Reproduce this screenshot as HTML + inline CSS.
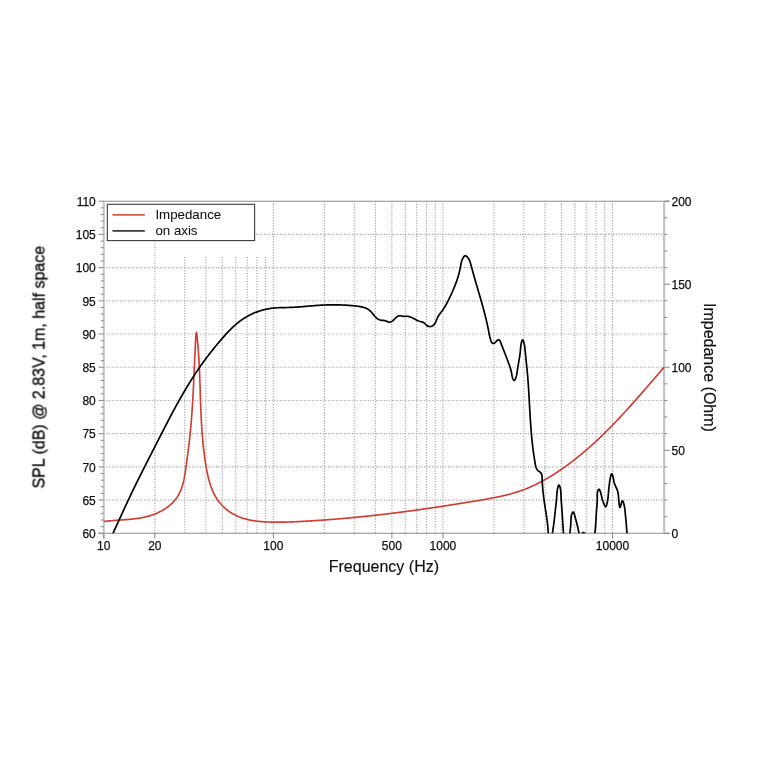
<!DOCTYPE html><html><head><meta charset="utf-8"><style>html,body{margin:0;padding:0;background:#fff;width:768px;height:768px;overflow:hidden}svg{display:block;will-change:transform}text{font-family:"Liberation Sans",sans-serif;fill:#111;stroke:#111;stroke-width:0.25px}</style></head><body>
<svg width="768" height="768" viewBox="0 0 768 768">
<defs><clipPath id="pc"><rect x="103.80" y="201.20" width="560.40" height="332.10"/></clipPath></defs>
<g stroke="#a3a3a3" stroke-width="1.15" stroke-dasharray="1.1 1.567" fill="none"><line x1="103.80" y1="500.09" x2="664.20" y2="500.09"/><line x1="103.80" y1="466.88" x2="664.20" y2="466.88"/><line x1="103.80" y1="433.67" x2="664.20" y2="433.67"/><line x1="103.80" y1="400.46" x2="664.20" y2="400.46"/><line x1="103.80" y1="367.25" x2="664.20" y2="367.25"/><line x1="103.80" y1="334.04" x2="664.20" y2="334.04"/><line x1="103.80" y1="300.83" x2="664.20" y2="300.83"/><line x1="103.80" y1="267.62" x2="664.20" y2="267.62"/><line x1="103.80" y1="234.41" x2="664.20" y2="234.41"/><line x1="154.85" y1="241.50" x2="154.85" y2="533.30"/><line x1="184.71" y1="257.00" x2="184.71" y2="533.30"/><line x1="205.89" y1="257.00" x2="205.89" y2="533.30"/><line x1="222.32" y1="257.00" x2="222.32" y2="533.30"/><line x1="235.75" y1="257.00" x2="235.75" y2="533.30"/><line x1="247.10" y1="257.00" x2="247.10" y2="533.30"/><line x1="256.94" y1="257.00" x2="256.94" y2="533.30"/><line x1="265.61" y1="257.00" x2="265.61" y2="533.30"/><line x1="273.37" y1="201.20" x2="273.37" y2="533.30"/><line x1="324.42" y1="201.20" x2="324.42" y2="533.30"/><line x1="354.28" y1="201.20" x2="354.28" y2="533.30"/><line x1="375.46" y1="201.20" x2="375.46" y2="533.30"/><line x1="391.89" y1="201.20" x2="391.89" y2="533.30"/><line x1="405.32" y1="201.20" x2="405.32" y2="533.30"/><line x1="416.67" y1="201.20" x2="416.67" y2="533.30"/><line x1="426.51" y1="201.20" x2="426.51" y2="533.30"/><line x1="435.18" y1="201.20" x2="435.18" y2="533.30"/><line x1="442.94" y1="201.20" x2="442.94" y2="533.30"/><line x1="493.99" y1="201.20" x2="493.99" y2="533.30"/><line x1="523.85" y1="201.20" x2="523.85" y2="533.30"/><line x1="545.03" y1="201.20" x2="545.03" y2="533.30"/><line x1="561.46" y1="201.20" x2="561.46" y2="533.30"/><line x1="574.89" y1="201.20" x2="574.89" y2="533.30"/><line x1="586.24" y1="201.20" x2="586.24" y2="533.30"/><line x1="596.08" y1="201.20" x2="596.08" y2="533.30"/><line x1="604.75" y1="201.20" x2="604.75" y2="533.30"/><line x1="612.51" y1="201.20" x2="612.51" y2="533.30"/><line x1="663.56" y1="201.20" x2="663.56" y2="533.30"/></g>
<rect x="107.3" y="204.3" width="147.3" height="36.3" fill="#fff" stroke="#3a3a3a" stroke-width="1.1"/>
<line x1="112.5" y1="214.8" x2="144.8" y2="214.8" stroke="#d55a45" stroke-width="1.8"/>
<line x1="112.5" y1="230.8" x2="144.8" y2="230.8" stroke="#3a3a3a" stroke-width="1.8"/>
<text x="155.4" y="219.4" font-size="13.3" style="stroke-width:0.05px">Impedance</text>
<text x="155.4" y="235.3" font-size="13.3" style="stroke-width:0.05px">on axis</text>
<line x1="102.80" y1="201.20" x2="669.70" y2="201.20" stroke="#8c8c8c" stroke-width="1.1"/><line x1="98.30" y1="533.30" x2="669.70" y2="533.30" stroke="#8c8c8c" stroke-width="1.1"/><line x1="103.80" y1="201.20" x2="103.80" y2="538.30" stroke="#c4c4c4" stroke-width="2"/><line x1="664.20" y1="201.20" x2="664.20" y2="533.30" stroke="#c4c4c4" stroke-width="2"/><g stroke="#888" stroke-width="1"><line x1="98.50" y1="533.30" x2="103.80" y2="533.30"/><line x1="100.80" y1="526.66" x2="103.80" y2="526.66"/><line x1="100.80" y1="520.02" x2="103.80" y2="520.02"/><line x1="100.80" y1="513.37" x2="103.80" y2="513.37"/><line x1="100.80" y1="506.73" x2="103.80" y2="506.73"/><line x1="98.50" y1="500.09" x2="103.80" y2="500.09"/><line x1="100.80" y1="493.45" x2="103.80" y2="493.45"/><line x1="100.80" y1="486.81" x2="103.80" y2="486.81"/><line x1="100.80" y1="480.16" x2="103.80" y2="480.16"/><line x1="100.80" y1="473.52" x2="103.80" y2="473.52"/><line x1="98.50" y1="466.88" x2="103.80" y2="466.88"/><line x1="100.80" y1="460.24" x2="103.80" y2="460.24"/><line x1="100.80" y1="453.60" x2="103.80" y2="453.60"/><line x1="100.80" y1="446.95" x2="103.80" y2="446.95"/><line x1="100.80" y1="440.31" x2="103.80" y2="440.31"/><line x1="98.50" y1="433.67" x2="103.80" y2="433.67"/><line x1="100.80" y1="427.03" x2="103.80" y2="427.03"/><line x1="100.80" y1="420.39" x2="103.80" y2="420.39"/><line x1="100.80" y1="413.74" x2="103.80" y2="413.74"/><line x1="100.80" y1="407.10" x2="103.80" y2="407.10"/><line x1="98.50" y1="400.46" x2="103.80" y2="400.46"/><line x1="100.80" y1="393.82" x2="103.80" y2="393.82"/><line x1="100.80" y1="387.18" x2="103.80" y2="387.18"/><line x1="100.80" y1="380.53" x2="103.80" y2="380.53"/><line x1="100.80" y1="373.89" x2="103.80" y2="373.89"/><line x1="98.50" y1="367.25" x2="103.80" y2="367.25"/><line x1="100.80" y1="360.61" x2="103.80" y2="360.61"/><line x1="100.80" y1="353.97" x2="103.80" y2="353.97"/><line x1="100.80" y1="347.32" x2="103.80" y2="347.32"/><line x1="100.80" y1="340.68" x2="103.80" y2="340.68"/><line x1="98.50" y1="334.04" x2="103.80" y2="334.04"/><line x1="100.80" y1="327.40" x2="103.80" y2="327.40"/><line x1="100.80" y1="320.76" x2="103.80" y2="320.76"/><line x1="100.80" y1="314.11" x2="103.80" y2="314.11"/><line x1="100.80" y1="307.47" x2="103.80" y2="307.47"/><line x1="98.50" y1="300.83" x2="103.80" y2="300.83"/><line x1="100.80" y1="294.19" x2="103.80" y2="294.19"/><line x1="100.80" y1="287.55" x2="103.80" y2="287.55"/><line x1="100.80" y1="280.90" x2="103.80" y2="280.90"/><line x1="100.80" y1="274.26" x2="103.80" y2="274.26"/><line x1="98.50" y1="267.62" x2="103.80" y2="267.62"/><line x1="100.80" y1="260.98" x2="103.80" y2="260.98"/><line x1="100.80" y1="254.34" x2="103.80" y2="254.34"/><line x1="100.80" y1="247.69" x2="103.80" y2="247.69"/><line x1="100.80" y1="241.05" x2="103.80" y2="241.05"/><line x1="98.50" y1="234.41" x2="103.80" y2="234.41"/><line x1="100.80" y1="227.77" x2="103.80" y2="227.77"/><line x1="100.80" y1="221.13" x2="103.80" y2="221.13"/><line x1="100.80" y1="214.48" x2="103.80" y2="214.48"/><line x1="100.80" y1="207.84" x2="103.80" y2="207.84"/><line x1="98.50" y1="201.20" x2="103.80" y2="201.20"/><line x1="664.20" y1="533.30" x2="669.70" y2="533.30"/><line x1="664.20" y1="516.69" x2="667.20" y2="516.69"/><line x1="664.20" y1="500.09" x2="667.20" y2="500.09"/><line x1="664.20" y1="483.48" x2="667.20" y2="483.48"/><line x1="664.20" y1="466.88" x2="667.20" y2="466.88"/><line x1="664.20" y1="450.27" x2="669.70" y2="450.27"/><line x1="664.20" y1="433.67" x2="667.20" y2="433.67"/><line x1="664.20" y1="417.06" x2="667.20" y2="417.06"/><line x1="664.20" y1="400.46" x2="667.20" y2="400.46"/><line x1="664.20" y1="383.85" x2="667.20" y2="383.85"/><line x1="664.20" y1="367.25" x2="669.70" y2="367.25"/><line x1="664.20" y1="350.64" x2="667.20" y2="350.64"/><line x1="664.20" y1="334.04" x2="667.20" y2="334.04"/><line x1="664.20" y1="317.44" x2="667.20" y2="317.44"/><line x1="664.20" y1="300.83" x2="667.20" y2="300.83"/><line x1="664.20" y1="284.23" x2="669.70" y2="284.23"/><line x1="664.20" y1="267.62" x2="667.20" y2="267.62"/><line x1="664.20" y1="251.01" x2="667.20" y2="251.01"/><line x1="664.20" y1="234.41" x2="667.20" y2="234.41"/><line x1="664.20" y1="217.81" x2="667.20" y2="217.81"/><line x1="664.20" y1="201.20" x2="669.70" y2="201.20"/><line x1="103.80" y1="533.30" x2="103.80" y2="538.50"/><line x1="154.85" y1="533.30" x2="154.85" y2="538.50"/><line x1="273.37" y1="533.30" x2="273.37" y2="538.50"/><line x1="391.89" y1="533.30" x2="391.89" y2="538.50"/><line x1="442.94" y1="533.30" x2="442.94" y2="538.50"/><line x1="612.51" y1="533.30" x2="612.51" y2="538.50"/></g>
<g clip-path="url(#pc)" fill="none" stroke-linejoin="round" stroke-linecap="round">
<path d="M103.07,521.64 103.70,521.55 104.34,521.46 104.98,521.38 105.62,521.30 106.26,521.22 106.90,521.15 107.55,521.08 108.20,521.01 108.85,520.94 109.50,520.88 110.15,520.81 110.80,520.75 111.46,520.70 112.11,520.64 112.77,520.59 113.43,520.53 114.09,520.48 114.75,520.43 115.41,520.38 116.08,520.33 116.74,520.28 117.40,520.24 118.07,520.19 118.74,520.14 119.40,520.10 120.07,520.05 120.74,520.00 121.41,519.96 122.08,519.91 122.75,519.86 123.42,519.81 124.09,519.76 124.76,519.71 125.43,519.66 126.10,519.61 126.78,519.56 127.45,519.50 128.12,519.44 128.79,519.39 129.46,519.33 130.13,519.26 130.80,519.20 131.48,519.13 132.15,519.06 132.82,518.99 133.49,518.91 134.16,518.83 134.83,518.75 135.49,518.67 136.16,518.58 136.83,518.49 137.50,518.39 138.16,518.29 138.83,518.19 139.49,518.08 140.15,517.97 140.82,517.86 141.48,517.74 142.14,517.61 142.80,517.48 143.45,517.35 144.11,517.21 144.77,517.06 145.42,516.91 146.07,516.76 146.72,516.60 147.37,516.43 148.02,516.26 148.67,516.08 149.31,515.89 149.95,515.70 150.59,515.50 151.23,515.30 151.87,515.09 152.51,514.87 153.14,514.64 153.77,514.41 154.40,514.17 155.02,513.93 155.64,513.68 156.26,513.42 156.88,513.16 157.49,512.89 158.10,512.61 158.70,512.33 159.30,512.04 159.90,511.74 160.49,511.44 161.08,511.13 161.67,510.81 162.25,510.49 162.82,510.16 163.39,509.82 163.96,509.48 164.52,509.13 165.07,508.77 165.62,508.41 166.16,508.04 166.70,507.67 167.23,507.28 167.76,506.89 168.28,506.50 168.79,506.10 169.30,505.69 169.80,505.27 170.29,504.85 170.78,504.42 171.26,503.98 171.73,503.54 172.19,503.09 172.65,502.64 173.10,502.17 173.54,501.70 173.98,501.23 174.40,500.75 174.82,500.26 175.23,499.76 175.63,499.26 176.02,498.75 176.40,498.23 176.77,497.71 177.14,497.18 177.49,496.64 177.84,496.10 178.18,495.55 178.50,495.00 178.82,494.43 179.13,493.86 179.42,493.29 179.71,492.71 179.99,492.12 180.26,491.52 180.52,490.93 180.77,490.32 181.02,489.71 181.25,489.10 181.48,488.47 181.70,487.85 181.92,487.22 182.12,486.59 182.32,485.95 182.52,485.31 182.70,484.66 182.88,484.01 183.06,483.36 183.22,482.70 183.39,482.04 183.54,481.38 183.70,480.72 183.84,480.05 183.99,479.38 184.12,478.71 184.26,478.04 184.39,477.36 184.51,476.68 184.63,476.00 184.75,475.32 184.87,474.64 184.98,473.96 185.09,473.28 185.20,472.60 185.30,471.91 185.41,471.23 185.51,470.55 185.61,469.86 185.70,469.18 185.80,468.50 185.89,467.82 185.99,467.14 186.08,466.46 186.18,465.78 186.27,465.10 186.36,464.43 186.46,463.75 186.55,463.08 186.64,462.41 186.73,461.74 186.82,461.07 186.91,460.40 187.00,459.73 187.09,459.07 187.18,458.40 187.27,457.74 187.36,457.08 187.45,456.41 187.53,455.75 187.62,455.09 187.71,454.43 187.79,453.77 187.88,453.11 187.96,452.45 188.05,451.80 188.13,451.14 188.21,450.48 188.30,449.83 188.38,449.17 188.46,448.52 188.54,447.86 188.62,447.21 188.70,446.55 188.78,445.90 188.86,445.25 188.94,444.59 189.02,443.94 189.09,443.29 189.17,442.64 189.25,441.99 189.32,441.33 189.40,440.68 189.47,440.03 189.54,439.38 189.62,438.73 189.69,438.07 189.76,437.42 189.83,436.77 189.90,436.12 189.97,435.46 190.04,434.81 190.10,434.16 190.17,433.50 190.24,432.85 190.30,432.20 190.37,431.54 190.43,430.89 190.50,430.23 190.56,429.58 190.62,428.92 190.68,428.26 190.74,427.61 190.80,426.95 190.86,426.29 190.92,425.64 190.98,424.98 191.03,424.32 191.09,423.66 191.15,423.00 191.20,422.34 191.26,421.68 191.31,421.02 191.37,420.36 191.42,419.70 191.47,419.04 191.52,418.38 191.57,417.72 191.62,417.06 191.67,416.40 191.72,415.74 191.77,415.08 191.82,414.41 191.87,413.75 191.92,413.09 191.96,412.43 192.01,411.76 192.06,411.10 192.10,410.44 192.15,409.77 192.19,409.11 192.24,408.44 192.28,407.78 192.32,407.11 192.36,406.45 192.41,405.78 192.45,405.12 192.49,404.45 192.53,403.79 192.57,403.12 192.61,402.46 192.65,401.79 192.69,401.13 192.73,400.46 192.77,399.79 192.81,399.13 192.84,398.46 192.88,397.79 192.92,397.13 192.96,396.46 192.99,395.79 193.03,395.13 193.06,394.46 193.10,393.79 193.14,393.12 193.17,392.46 193.21,391.79 193.24,391.12 193.27,390.45 193.31,389.78 193.34,389.12 193.37,388.45 193.41,387.78 193.44,387.11 193.47,386.44 193.51,385.78 193.54,385.11 193.57,384.44 193.60,383.77 193.63,383.10 193.67,382.43 193.70,381.77 193.73,381.10 193.76,380.43 193.79,379.76 193.82,379.09 193.85,378.42 193.88,377.75 193.91,377.09 193.94,376.42 193.97,375.75 194.00,375.08 194.03,374.41 194.06,373.74 194.09,373.08 194.12,372.41 194.15,371.74 194.18,371.07 194.21,370.40 194.24,369.73 194.27,369.07 194.30,368.40 194.33,367.73 194.36,367.06 194.39,366.40 194.41,365.73 194.44,365.06 194.47,364.39 194.50,363.73 194.53,363.06 194.56,362.39 194.59,361.73 194.62,361.06 194.65,360.39 194.68,359.72 194.71,359.06 194.74,358.39 194.77,357.73 194.80,357.06 194.83,356.39 194.86,355.73 194.89,355.06 194.92,354.40 194.95,353.73 194.98,353.07 195.01,352.40 195.04,351.74 195.07,351.07 195.11,350.41 195.14,349.74 195.17,349.08 195.20,348.42 195.23,347.75 195.27,347.09 195.30,346.43 195.33,345.76 195.36,345.10 195.40,344.44 195.43,343.78 195.46,343.12 195.50,342.45 195.53,341.79 195.57,341.13 195.60,340.47 195.64,339.81 195.67,339.15 195.71,338.49 195.74,337.83 195.78,337.17 195.82,336.51 195.85,335.85 195.89,335.19 195.93,334.53 Q196.4,330.2 196.81,334.42 L196.89,335.09 196.96,335.77 197.04,336.44 197.11,337.11 197.18,337.78 197.25,338.45 197.32,339.12 197.38,339.79 197.45,340.46 197.52,341.13 197.58,341.81 197.64,342.48 197.70,343.15 197.76,343.82 197.82,344.48 197.88,345.15 197.94,345.82 198.00,346.49 198.05,347.16 198.11,347.83 198.16,348.50 198.21,349.17 198.26,349.84 198.31,350.50 198.36,351.17 198.41,351.84 198.46,352.51 198.51,353.18 198.55,353.84 198.60,354.51 198.64,355.18 198.69,355.84 198.73,356.51 198.77,357.18 198.81,357.85 198.85,358.51 198.89,359.18 198.93,359.84 198.97,360.51 199.01,361.18 199.04,361.84 199.08,362.51 199.11,363.17 199.15,363.84 199.18,364.50 199.22,365.17 199.25,365.84 199.28,366.50 199.31,367.17 199.34,367.83 199.38,368.50 199.41,369.16 199.44,369.82 199.46,370.49 199.49,371.15 199.52,371.82 199.55,372.48 199.58,373.15 199.60,373.81 199.63,374.47 199.66,375.14 199.68,375.80 199.71,376.47 199.73,377.13 199.76,377.79 199.78,378.46 199.80,379.12 199.83,379.78 199.85,380.45 199.88,381.11 199.90,381.77 199.92,382.43 199.94,383.10 199.97,383.76 199.99,384.42 200.01,385.09 200.03,385.75 200.05,386.41 200.08,387.07 200.10,387.74 200.12,388.40 200.14,389.06 200.16,389.72 200.18,390.39 200.20,391.05 200.22,391.71 200.25,392.37 200.27,393.04 200.29,393.70 200.31,394.36 200.33,395.02 200.35,395.68 200.37,396.35 200.39,397.01 200.42,397.67 200.44,398.33 200.46,398.99 200.48,399.66 200.50,400.32 200.53,400.98 200.55,401.64 200.57,402.30 200.59,402.96 200.62,403.63 200.64,404.29 200.66,404.95 200.69,405.61 200.71,406.27 200.74,406.94 200.76,407.60 200.79,408.26 200.81,408.92 200.84,409.58 200.87,410.24 200.89,410.91 200.92,411.57 200.95,412.23 200.98,412.89 201.01,413.55 201.03,414.22 201.06,414.88 201.09,415.54 201.12,416.20 201.16,416.86 201.19,417.53 201.22,418.19 201.25,418.85 201.29,419.51 201.32,420.17 201.36,420.84 201.39,421.50 201.43,422.16 201.46,422.82 201.50,423.49 201.54,424.15 201.58,424.81 201.62,425.47 201.66,426.14 201.70,426.80 201.74,427.46 201.79,428.12 201.83,428.79 201.87,429.45 201.92,430.11 201.96,430.78 202.01,431.44 202.06,432.10 202.11,432.76 202.16,433.43 202.21,434.09 202.26,434.75 202.31,435.42 202.37,436.08 202.42,436.75 202.48,437.41 202.53,438.07 202.59,438.74 202.65,439.40 202.71,440.06 202.77,440.73 202.83,441.39 202.89,442.06 202.96,442.72 203.02,443.39 203.09,444.05 203.16,444.72 203.22,445.38 203.29,446.05 203.36,446.71 203.44,447.38 203.51,448.04 203.59,448.71 203.66,449.37 203.74,450.04 203.82,450.70 203.90,451.37 203.98,452.03 204.06,452.70 204.14,453.37 204.23,454.03 204.32,454.70 204.40,455.37 204.49,456.03 204.59,456.70 204.68,457.37 204.77,458.03 204.87,458.70 204.96,459.37 205.06,460.04 205.16,460.70 205.26,461.37 205.37,462.04 205.47,462.71 205.58,463.38 205.68,464.05 205.79,464.71 205.90,465.38 206.02,466.05 206.13,466.72 206.25,467.39 206.36,468.06 206.48,468.73 206.61,469.40 206.73,470.07 206.86,470.73 206.99,471.40 207.12,472.07 207.25,472.74 207.39,473.40 207.53,474.07 207.67,474.73 207.82,475.39 207.97,476.06 208.12,476.72 208.28,477.37 208.44,478.03 208.60,478.69 208.77,479.34 208.94,480.00 209.11,480.65 209.29,481.29 209.48,481.94 209.67,482.59 209.86,483.23 210.06,483.87 210.26,484.51 210.47,485.14 210.68,485.77 210.90,486.40 211.13,487.03 211.36,487.65 211.59,488.27 211.83,488.89 212.08,489.51 212.33,490.12 212.59,490.72 212.86,491.33 213.13,491.93 213.40,492.53 213.69,493.12 213.98,493.71 214.28,494.29 214.58,494.87 214.89,495.45 215.21,496.02 215.54,496.59 215.87,497.15 216.21,497.71 216.56,498.27 216.92,498.82 217.28,499.36 217.66,499.90 218.04,500.43 218.42,500.96 218.82,501.49 219.22,502.00 219.63,502.52 220.05,503.02 220.47,503.53 220.90,504.02 221.34,504.51 221.78,505.00 222.24,505.47 222.69,505.95 223.16,506.41 223.63,506.87 224.11,507.32 224.59,507.77 225.08,508.21 225.57,508.64 226.07,509.07 226.58,509.49 227.09,509.90 227.61,510.30 228.14,510.70 228.66,511.09 229.20,511.47 229.74,511.85 230.28,512.22 230.83,512.58 231.38,512.93 231.94,513.28 232.51,513.61 233.08,513.94 233.65,514.26 234.22,514.57 234.81,514.88 235.39,515.17 235.98,515.46 236.57,515.74 237.17,516.01 237.77,516.28 238.38,516.53 238.98,516.78 239.60,517.02 240.21,517.26 240.83,517.49 241.45,517.71 242.08,517.92 242.70,518.13 243.34,518.32 243.97,518.52 244.61,518.70 245.25,518.88 245.89,519.06 246.53,519.23 247.18,519.39 247.83,519.54 248.48,519.69 249.14,519.84 249.80,519.97 250.45,520.11 251.12,520.23 251.78,520.36 252.44,520.47 253.11,520.59 253.78,520.69 254.45,520.79 255.12,520.89 255.79,520.98 256.46,521.07 257.14,521.16 257.81,521.23 258.49,521.31 259.17,521.38 259.85,521.45 260.53,521.51 261.21,521.57 261.89,521.63 262.57,521.68 263.25,521.73 263.93,521.77 264.61,521.82 265.30,521.86 265.98,521.89 266.66,521.93 267.34,521.96 268.03,521.99 268.71,522.01 269.39,522.03 270.07,522.05 270.75,522.07 271.43,522.09 272.11,522.11 272.79,522.12 273.47,522.13 274.14,522.14 274.82,522.15 275.50,522.15 276.17,522.16 276.84,522.16 277.51,522.16 278.19,522.16 278.86,522.16 279.53,522.16 280.20,522.15 280.87,522.15 281.53,522.14 282.20,522.13 282.87,522.12 283.53,522.11 284.20,522.10 284.87,522.09 285.53,522.07 286.19,522.06 286.86,522.04 287.52,522.02 288.18,522.00 288.85,521.98 289.51,521.96 290.17,521.94 290.83,521.91 291.49,521.89 292.15,521.87 292.81,521.84 293.47,521.81 294.13,521.78 294.79,521.76 295.45,521.73 296.11,521.70 296.77,521.67 297.43,521.63 298.09,521.60 298.74,521.57 299.40,521.54 300.06,521.50 300.72,521.47 301.38,521.43 302.04,521.40 302.70,521.36 303.35,521.33 304.01,521.29 304.67,521.25 305.33,521.21 305.99,521.18 306.65,521.14 307.31,521.10 307.97,521.06 308.63,521.02 309.29,520.98 309.95,520.94 310.61,520.90 311.27,520.86 311.93,520.82 312.59,520.78 313.25,520.73 313.91,520.69 314.57,520.65 315.24,520.61 315.90,520.56 316.56,520.52 317.22,520.47 317.88,520.43 318.54,520.39 319.21,520.34 319.87,520.29 320.53,520.25 321.19,520.20 321.85,520.16 322.52,520.11 323.18,520.06 323.84,520.01 324.50,519.96 325.17,519.92 325.83,519.87 326.49,519.82 327.16,519.77 327.82,519.72 328.48,519.67 329.14,519.62 329.81,519.57 330.47,519.52 331.13,519.46 331.80,519.41 332.46,519.36 333.13,519.31 333.79,519.25 334.45,519.20 335.12,519.15 335.78,519.09 336.45,519.04 337.11,518.98 337.77,518.93 338.44,518.87 339.10,518.82 339.77,518.76 340.43,518.70 341.09,518.65 341.76,518.59 342.42,518.53 343.09,518.47 343.75,518.42 344.42,518.36 345.08,518.30 345.75,518.24 346.41,518.18 347.08,518.12 347.74,518.06 348.40,518.00 349.07,517.94 349.73,517.88 350.40,517.81 351.06,517.75 351.73,517.69 352.39,517.63 353.06,517.56 353.72,517.50 354.39,517.44 355.05,517.37 355.72,517.31 356.38,517.24 357.05,517.18 357.71,517.11 358.38,517.05 359.04,516.98 359.71,516.92 360.37,516.85 361.04,516.78 361.70,516.71 362.37,516.65 363.03,516.58 363.70,516.51 364.36,516.44 365.03,516.37 365.69,516.30 366.35,516.23 367.02,516.16 367.68,516.09 368.35,516.02 369.01,515.95 369.68,515.88 370.34,515.81 371.01,515.74 371.67,515.66 372.34,515.59 373.00,515.52 373.66,515.45 374.33,515.37 374.99,515.30 375.66,515.22 376.32,515.15 376.99,515.07 377.65,515.00 378.31,514.92 378.98,514.85 379.64,514.77 380.30,514.70 380.97,514.62 381.63,514.54 382.30,514.47 382.96,514.39 383.62,514.31 384.29,514.23 384.95,514.15 385.61,514.07 386.27,513.99 386.94,513.92 387.60,513.84 388.26,513.76 388.93,513.67 389.59,513.59 390.25,513.51 390.91,513.43 391.58,513.35 392.24,513.27 392.90,513.19 393.56,513.10 394.22,513.02 394.89,512.94 395.55,512.85 396.21,512.77 396.87,512.69 397.53,512.60 398.19,512.52 398.86,512.43 399.52,512.35 400.18,512.26 400.84,512.17 401.50,512.09 402.16,512.00 402.82,511.92 403.48,511.83 404.14,511.74 404.80,511.65 405.46,511.57 406.12,511.48 406.78,511.39 407.45,511.30 408.11,511.21 408.77,511.12 409.43,511.03 410.09,510.94 410.75,510.85 411.41,510.76 412.06,510.67 412.72,510.58 413.38,510.49 414.04,510.40 414.70,510.31 415.36,510.22 416.02,510.12 416.68,510.03 417.34,509.94 418.00,509.85 418.66,509.75 419.32,509.66 419.98,509.57 420.64,509.47 421.30,509.38 421.95,509.29 422.61,509.19 423.27,509.10 423.93,509.00 424.59,508.91 425.25,508.81 425.91,508.72 426.56,508.62 427.22,508.52 427.88,508.43 428.54,508.33 429.20,508.24 429.86,508.14 430.52,508.04 431.17,507.94 431.83,507.85 432.49,507.75 433.15,507.65 433.81,507.55 434.46,507.45 435.12,507.36 435.78,507.26 436.44,507.16 437.10,507.06 437.75,506.96 438.41,506.86 439.07,506.76 439.73,506.66 440.39,506.56 441.04,506.46 441.70,506.36 442.36,506.26 443.02,506.16 443.68,506.06 444.33,505.96 444.99,505.85 445.65,505.75 446.31,505.65 446.96,505.55 447.62,505.45 448.28,505.34 448.94,505.24 449.60,505.14 450.25,505.04 450.91,504.93 451.57,504.83 452.23,504.73 452.88,504.62 453.54,504.52 454.20,504.42 454.86,504.31 455.52,504.21 456.17,504.11 456.83,504.00 457.49,503.90 458.15,503.79 458.80,503.69 459.46,503.58 460.12,503.48 460.78,503.37 461.44,503.27 462.09,503.16 462.75,503.06 463.41,502.95 464.07,502.84 464.73,502.74 465.38,502.63 466.04,502.53 466.70,502.42 467.36,502.31 468.02,502.21 468.67,502.10 469.33,501.99 469.99,501.89 470.65,501.78 471.31,501.67 471.96,501.56 472.62,501.46 473.28,501.35 473.94,501.24 474.60,501.13 475.26,501.03 475.92,500.92 476.57,500.81 477.23,500.70 477.89,500.59 478.55,500.48 479.21,500.37 479.87,500.26 480.52,500.15 481.18,500.04 481.84,499.93 482.50,499.82 483.16,499.71 483.81,499.60 484.47,499.48 485.13,499.37 485.79,499.25 486.44,499.14 487.10,499.02 487.76,498.90 488.41,498.79 489.07,498.67 489.73,498.55 490.38,498.42 491.04,498.30 491.69,498.18 492.35,498.05 493.00,497.93 493.65,497.80 494.31,497.67 494.96,497.54 495.61,497.41 496.27,497.28 496.92,497.14 497.57,497.01 498.22,496.87 498.87,496.73 499.52,496.59 500.17,496.45 500.82,496.31 501.47,496.16 502.12,496.01 502.76,495.87 503.41,495.72 504.06,495.56 504.70,495.41 505.35,495.25 505.99,495.09 506.64,494.93 507.28,494.77 507.92,494.60 508.56,494.44 509.21,494.27 509.85,494.10 510.49,493.92 511.13,493.75 511.76,493.57 512.40,493.39 513.04,493.20 513.67,493.02 514.31,492.83 514.94,492.64 515.58,492.44 516.21,492.25 516.84,492.05 517.47,491.85 518.10,491.64 518.73,491.43 519.36,491.22 519.99,491.01 520.61,490.79 521.24,490.57 521.86,490.35 522.49,490.13 523.11,489.90 523.73,489.67 524.35,489.43 524.97,489.19 525.59,488.95 526.21,488.71 526.82,488.46 527.44,488.21 528.05,487.96 528.67,487.70 529.28,487.44 529.89,487.18 530.50,486.91 531.11,486.64 531.72,486.37 532.32,486.10 532.93,485.82 533.53,485.54 534.14,485.26 534.74,484.97 535.34,484.68 535.94,484.39 536.54,484.10 537.14,483.80 537.74,483.51 538.33,483.21 538.93,482.90 539.52,482.60 540.12,482.29 540.71,481.98 541.30,481.66 541.89,481.35 542.48,481.03 543.07,480.71 543.65,480.39 544.24,480.06 544.82,479.74 545.41,479.41 545.99,479.07 546.57,478.74 547.15,478.41 547.73,478.07 548.31,477.73 548.88,477.39 549.46,477.04 550.03,476.70 550.61,476.35 551.18,476.00 551.75,475.65 552.32,475.29 552.89,474.94 553.46,474.58 554.02,474.22 554.59,473.86 555.15,473.50 555.72,473.14 556.28,472.77 556.84,472.40 557.40,472.04 557.96,471.67 558.52,471.29 559.07,470.92 559.63,470.55 560.18,470.17 560.74,469.79 561.29,469.41 561.84,469.03 562.39,468.65 562.94,468.27 563.48,467.88 564.03,467.50 564.58,467.11 565.12,466.72 565.66,466.34 566.20,465.94 566.74,465.55 567.28,465.16 567.82,464.77 568.36,464.37 568.90,463.97 569.43,463.58 569.97,463.18 570.50,462.78 571.03,462.38 571.56,461.97 572.09,461.57 572.62,461.16 573.15,460.76 573.68,460.35 574.20,459.94 574.73,459.53 575.25,459.12 575.77,458.71 576.29,458.30 576.82,457.88 577.33,457.47 577.85,457.05 578.37,456.63 578.89,456.22 579.40,455.80 579.92,455.38 580.43,454.95 580.95,454.53 581.46,454.11 581.97,453.68 582.48,453.26 582.99,452.83 583.50,452.40 584.00,451.97 584.51,451.54 585.02,451.11 585.52,450.68 586.02,450.25 586.53,449.81 587.03,449.38 587.53,448.94 588.03,448.51 588.53,448.07 589.03,447.63 589.53,447.19 590.02,446.75 590.52,446.31 591.02,445.86 591.51,445.42 592.00,444.98 592.50,444.53 592.99,444.09 593.48,443.64 593.97,443.19 594.46,442.74 594.95,442.29 595.44,441.84 595.92,441.39 596.41,440.94 596.89,440.49 597.38,440.03 597.86,439.58 598.35,439.12 598.83,438.66 599.31,438.21 599.79,437.75 600.27,437.29 600.75,436.83 601.23,436.37 601.71,435.91 602.19,435.45 602.67,434.99 603.14,434.52 603.62,434.06 604.09,433.59 604.57,433.13 605.04,432.66 605.51,432.19 605.99,431.73 606.46,431.26 606.93,430.79 607.40,430.32 607.87,429.85 608.34,429.38 608.81,428.90 609.27,428.43 609.74,427.96 610.21,427.49 610.67,427.01 611.14,426.54 611.60,426.06 612.07,425.58 612.53,425.11 613.00,424.63 613.46,424.15 613.92,423.67 614.38,423.19 614.84,422.71 615.30,422.23 615.76,421.75 616.22,421.27 616.68,420.79 617.14,420.30 617.60,419.82 618.05,419.34 618.51,418.85 618.97,418.37 619.42,417.88 619.88,417.40 620.33,416.91 620.79,416.42 621.24,415.93 621.70,415.45 622.15,414.96 622.60,414.47 623.05,413.98 623.51,413.49 623.96,413.00 624.41,412.51 624.86,412.02 625.31,411.53 625.76,411.03 626.21,410.54 626.66,410.05 627.10,409.56 627.55,409.06 628.00,408.57 628.45,408.07 628.90,407.58 629.34,407.08 629.79,406.59 630.23,406.09 630.68,405.60 631.13,405.10 631.57,404.60 632.01,404.11 632.46,403.61 632.90,403.11 633.35,402.61 633.79,402.11 634.23,401.62 634.68,401.12 635.12,400.62 635.56,400.12 636.00,399.62 636.45,399.12 636.89,398.62 637.33,398.12 637.77,397.62 638.21,397.12 638.65,396.61 639.09,396.11 639.53,395.61 639.97,395.11 640.41,394.61 640.85,394.11 641.29,393.60 641.73,393.10 642.17,392.60 642.61,392.10 643.04,391.59 643.48,391.09 643.92,390.59 644.36,390.08 644.80,389.58 645.23,389.07 645.67,388.57 646.11,388.07 646.55,387.56 646.98,387.06 647.42,386.55 647.86,386.05 648.29,385.55 648.73,385.04 649.17,384.54 649.60,384.03 650.04,383.53 650.48,383.02 650.91,382.52 651.35,382.01 651.79,381.51 652.22,381.00 652.66,380.50 653.10,379.99 653.53,379.49 653.97,378.99 654.40,378.48 654.84,377.98 655.28,377.47 655.71,376.97 656.15,376.46 656.58,375.96 657.02,375.45 657.46,374.95 657.89,374.45 658.33,373.94 658.76,373.44 659.20,372.93 659.64,372.43 660.07,371.93 660.51,371.42 660.94,370.92 661.38,370.41 661.82,369.91 662.25,369.41 662.69,368.91 663.13,368.40 663.56,367.90 664.00,367.40" stroke="#d23c33" stroke-width="1.65"/>
<path d="M108.55,543.02 108.83,542.41 109.11,541.81 109.39,541.21 109.67,540.60 109.95,540.00 110.23,539.39 110.50,538.79 110.78,538.19 111.06,537.58 111.34,536.98 111.61,536.37 111.89,535.77 112.17,535.16 112.45,534.56 112.72,533.95 113.00,533.35 113.28,532.74 113.56,532.14 113.83,531.53 114.11,530.93 114.39,530.32 114.66,529.71 114.94,529.11 115.22,528.50 115.49,527.90 115.77,527.29 116.05,526.68 116.32,526.08 116.60,525.47 116.88,524.87 117.15,524.26 117.43,523.65 117.71,523.05 117.98,522.44 118.26,521.83 118.54,521.23 118.82,520.62 119.09,520.01 119.37,519.41 119.65,518.80 119.92,518.20 120.20,517.59 120.48,516.98 120.76,516.38 121.03,515.77 121.31,515.16 121.59,514.56 121.87,513.95 122.15,513.35 122.43,512.74 122.70,512.13 122.98,511.53 123.26,510.92 123.54,510.32 123.82,509.71 124.10,509.11 124.38,508.50 124.66,507.89 124.94,507.29 125.22,506.68 125.50,506.08 125.78,505.47 126.06,504.87 126.34,504.26 126.62,503.66 126.91,503.06 127.19,502.45 127.47,501.85 127.75,501.24 128.04,500.64 128.32,500.04 128.60,499.43 128.89,498.83 129.17,498.23 129.45,497.62 129.74,497.02 130.02,496.42 130.31,495.81 130.59,495.21 130.88,494.61 131.17,494.01 131.45,493.41 131.74,492.81 132.03,492.20 132.32,491.60 132.60,491.00 132.89,490.40 133.18,489.80 133.47,489.20 133.76,488.60 134.05,488.00 134.34,487.40 134.63,486.81 134.93,486.21 135.22,485.61 135.51,485.01 135.80,484.41 136.10,483.81 136.39,483.22 136.69,482.62 136.98,482.02 137.27,481.43 137.57,480.83 137.87,480.23 138.16,479.64 138.46,479.04 138.75,478.44 139.05,477.85 139.35,477.25 139.65,476.66 139.94,476.06 140.24,475.47 140.54,474.87 140.84,474.28 141.14,473.68 141.44,473.09 141.74,472.50 142.04,471.90 142.34,471.31 142.64,470.71 142.94,470.12 143.24,469.53 143.54,468.93 143.84,468.34 144.14,467.75 144.44,467.15 144.74,466.56 145.04,465.97 145.35,465.37 145.65,464.78 145.95,464.19 146.25,463.59 146.55,463.00 146.86,462.41 147.16,461.82 147.46,461.22 147.77,460.63 148.07,460.04 148.37,459.45 148.67,458.85 148.98,458.26 149.28,457.67 149.58,457.08 149.89,456.48 150.19,455.89 150.49,455.30 150.80,454.70 151.10,454.11 151.40,453.52 151.71,452.93 152.01,452.33 152.31,451.74 152.62,451.15 152.92,450.56 153.22,449.96 153.53,449.37 153.83,448.78 154.13,448.18 154.44,447.59 154.74,447.00 155.04,446.40 155.35,445.81 155.65,445.22 155.95,444.62 156.26,444.03 156.56,443.44 156.86,442.84 157.16,442.25 157.47,441.65 157.77,441.06 158.07,440.47 158.37,439.87 158.68,439.28 158.98,438.68 159.28,438.09 159.59,437.50 159.89,436.90 160.19,436.31 160.49,435.71 160.80,435.12 161.10,434.53 161.40,433.93 161.71,433.34 162.01,432.74 162.32,432.15 162.62,431.56 162.92,430.96 163.23,430.37 163.53,429.78 163.84,429.18 164.14,428.59 164.45,428.00 164.75,427.40 165.06,426.81 165.36,426.22 165.67,425.63 165.98,425.03 166.28,424.44 166.59,423.85 166.90,423.26 167.20,422.66 167.51,422.07 167.82,421.48 168.13,420.89 168.44,420.30 168.75,419.71 169.06,419.12 169.37,418.53 169.68,417.94 169.99,417.35 170.30,416.76 170.61,416.17 170.92,415.58 171.23,414.99 171.54,414.40 171.86,413.81 172.17,413.22 172.48,412.63 172.80,412.04 173.11,411.46 173.43,410.87 173.74,410.28 174.06,409.70 174.38,409.11 174.69,408.52 175.01,407.94 175.33,407.35 175.65,406.77 175.97,406.18 176.29,405.60 176.61,405.01 176.93,404.43 177.25,403.84 177.57,403.26 177.90,402.68 178.22,402.10 178.54,401.51 178.87,400.93 179.19,400.35 179.52,399.77 179.85,399.19 180.17,398.61 180.50,398.03 180.83,397.45 181.16,396.87 181.49,396.29 181.82,395.72 182.15,395.14 182.48,394.56 182.82,393.99 183.15,393.41 183.49,392.83 183.82,392.26 184.16,391.68 184.49,391.11 184.83,390.54 185.17,389.96 185.51,389.39 185.85,388.82 186.19,388.25 186.53,387.68 186.88,387.11 187.22,386.54 187.56,385.97 187.91,385.40 188.25,384.83 188.60,384.26 188.95,383.70 189.30,383.13 189.65,382.56 190.00,382.00 190.35,381.43 190.70,380.87 191.06,380.31 191.41,379.74 191.77,379.18 192.12,378.62 192.48,378.06 192.84,377.50 193.20,376.94 193.56,376.38 193.92,375.82 194.29,375.26 194.65,374.71 195.01,374.15 195.38,373.60 195.75,373.04 196.12,372.49 196.48,371.93 196.85,371.38 197.23,370.83 197.60,370.28 197.97,369.73 198.35,369.18 198.72,368.63 199.10,368.08 199.48,367.53 199.86,366.98 200.24,366.44 200.62,365.89 201.00,365.35 201.39,364.81 201.78,364.26 202.16,363.72 202.55,363.18 202.94,362.64 203.33,362.10 203.72,361.56 204.11,361.02 204.51,360.48 204.90,359.95 205.30,359.41 205.70,358.88 206.10,358.34 206.50,357.81 206.90,357.28 207.30,356.74 207.70,356.21 208.11,355.68 208.51,355.15 208.92,354.62 209.33,354.10 209.74,353.57 210.15,353.04 210.56,352.52 210.97,351.99 211.38,351.47 211.80,350.94 212.21,350.42 212.63,349.90 213.04,349.38 213.46,348.86 213.88,348.34 214.30,347.82 214.72,347.30 215.15,346.78 215.57,346.27 216.00,345.75 216.42,345.24 216.85,344.72 217.28,344.21 217.70,343.70 218.13,343.18 218.56,342.67 219.00,342.16 219.43,341.65 219.86,341.14 220.30,340.64 220.73,340.13 221.17,339.62 221.61,339.12 222.04,338.61 222.48,338.11 222.92,337.60 223.36,337.10 223.81,336.60 224.25,336.10 224.70,335.60 225.14,335.10 225.59,334.61 226.04,334.11 226.49,333.62 226.94,333.13 227.40,332.64 227.85,332.16 228.31,331.67 228.77,331.19 229.24,330.71 229.70,330.23 230.17,329.76 230.64,329.29 231.11,328.82 231.59,328.36 232.06,327.89 232.54,327.43 233.03,326.98 233.51,326.53 234.00,326.08 234.49,325.63 234.99,325.19 235.48,324.75 235.99,324.32 236.49,323.89 237.00,323.46 237.51,323.04 238.02,322.63 238.54,322.22 239.07,321.81 239.59,321.41 240.12,321.01 240.66,320.62 241.19,320.23 241.74,319.85 242.28,319.47 242.83,319.10 243.39,318.73 243.95,318.37 244.51,318.01 245.07,317.66 245.64,317.32 246.22,316.98 246.80,316.65 247.38,316.32 247.96,316.00 248.55,315.68 249.14,315.37 249.73,315.06 250.33,314.76 250.93,314.47 251.53,314.18 252.14,313.90 252.75,313.63 253.36,313.35 253.98,313.09 254.59,312.83 255.21,312.58 255.84,312.33 256.46,312.09 257.09,311.86 257.72,311.63 258.35,311.41 258.98,311.19 259.62,310.98 260.25,310.78 260.89,310.58 261.53,310.39 262.18,310.21 262.82,310.03 263.47,309.86 264.12,309.69 264.76,309.53 265.41,309.38 266.07,309.23 266.72,309.10 267.37,308.96 268.03,308.84 268.68,308.72 269.34,308.60 270.00,308.50 270.66,308.40 271.31,308.31 271.97,308.22 272.63,308.14 273.29,308.07 273.96,308.00 274.62,307.94 275.28,307.89 275.94,307.84 276.60,307.80 277.27,307.76 277.93,307.73 278.59,307.70 279.25,307.67 279.92,307.65 280.58,307.63 281.25,307.61 281.91,307.60 282.58,307.59 283.24,307.57 283.91,307.56 284.57,307.55 285.24,307.54 285.90,307.53 286.57,307.52 287.23,307.51 287.90,307.50 288.57,307.48 289.23,307.46 289.90,307.44 290.56,307.42 291.23,307.40 291.90,307.37 292.56,307.34 293.23,307.30 293.90,307.27 294.56,307.23 295.23,307.19 295.89,307.15 296.56,307.11 297.23,307.06 297.89,307.01 298.56,306.96 299.23,306.91 299.89,306.86 300.56,306.81 301.23,306.76 301.89,306.70 302.56,306.65 303.22,306.59 303.89,306.53 304.56,306.47 305.22,306.42 305.89,306.36 306.55,306.30 307.22,306.24 307.89,306.18 308.55,306.12 309.22,306.06 309.88,306.01 310.55,305.95 311.21,305.89 311.88,305.84 312.54,305.78 313.21,305.73 313.87,305.67 314.54,305.62 315.20,305.57 315.87,305.52 316.53,305.47 317.19,305.42 317.86,305.38 318.52,305.33 319.19,305.29 319.85,305.25 320.51,305.22 321.18,305.18 321.84,305.14 322.50,305.11 323.17,305.08 323.83,305.05 324.49,305.02 325.15,305.00 325.82,304.97 326.48,304.95 327.14,304.93 327.81,304.91 328.47,304.90 329.13,304.88 329.79,304.87 330.46,304.86 331.12,304.85 331.78,304.84 332.45,304.84 333.11,304.84 333.77,304.83 334.44,304.84 335.10,304.84 335.76,304.84 336.43,304.85 337.09,304.86 337.76,304.87 338.42,304.89 339.08,304.90 339.75,304.92 340.41,304.94 341.08,304.96 341.75,304.98 342.41,305.01 343.08,305.04 343.74,305.07 344.41,305.10 345.08,305.14 345.74,305.17 346.41,305.21 347.08,305.25 347.75,305.30 348.41,305.35 349.08,305.39 349.75,305.44 350.42,305.50 351.09,305.55 351.76,305.61 352.43,305.67 353.10,305.73 353.78,305.80 354.45,305.86 355.12,305.93 355.79,306.01 356.46,306.08 357.13,306.17 357.80,306.25 358.47,306.35 359.13,306.45 359.79,306.56 360.45,306.67 361.10,306.80 361.74,306.94 362.38,307.08 363.02,307.24 363.64,307.42 364.26,307.60 364.87,307.80 365.47,308.02 366.07,308.26 366.65,308.52 367.21,308.80 367.77,309.11 368.31,309.44 368.83,309.80 369.34,310.20 369.84,310.62 370.32,311.07 370.79,311.55 371.25,312.04 371.70,312.55 372.14,313.07 372.59,313.60 373.03,314.13 373.47,314.66 373.91,315.19 374.35,315.72 374.81,316.23 375.26,316.73 375.73,317.21 376.21,317.68 376.71,318.11 377.21,318.52 377.74,318.90 378.28,319.24 378.85,319.54 379.44,319.80 380.05,320.02 380.69,320.18 381.36,320.29 382.05,320.35 382.77,320.38 383.49,320.42 384.21,320.49 384.91,320.62 385.59,320.84 386.25,321.10 386.89,321.39 387.51,321.68 388.12,321.92 388.73,322.10 389.32,322.18 389.91,322.15 390.50,322.02 391.07,321.80 391.64,321.50 392.20,321.14 392.75,320.72 393.29,320.27 393.82,319.78 394.34,319.27 394.85,318.76 395.35,318.25 395.84,317.76 396.34,317.30 396.84,316.87 397.35,316.50 397.88,316.19 398.43,315.94 399.01,315.79 399.62,315.73 400.26,315.76 400.93,315.86 401.62,316.00 402.32,316.14 403.03,316.25 403.73,316.30 404.42,316.30 405.11,316.28 405.80,316.25 406.47,316.24 407.13,316.26 407.78,316.32 408.42,316.42 409.06,316.56 409.68,316.74 410.29,316.95 410.90,317.18 411.51,317.44 412.11,317.72 412.70,318.01 413.30,318.32 413.89,318.64 414.48,318.96 415.07,319.28 415.67,319.60 416.26,319.91 416.86,320.22 417.47,320.50 418.07,320.78 418.69,321.03 419.31,321.25 419.94,321.45 420.58,321.61 421.22,321.77 421.86,321.92 422.49,322.11 423.10,322.34 423.69,322.64 424.25,323.03 424.78,323.49 425.30,324.00 425.82,324.52 426.34,325.03 426.88,325.48 427.45,325.87 428.04,326.16 428.65,326.36 429.28,326.49 429.91,326.53 430.53,326.49 431.15,326.39 431.74,326.21 432.31,325.97 432.84,325.66 433.33,325.29 433.78,324.87 434.19,324.40 434.57,323.89 434.93,323.34 435.26,322.75 435.57,322.14 435.87,321.51 436.15,320.86 436.43,320.20 436.71,319.53 436.99,318.87 437.27,318.21 437.56,317.56 437.87,316.93 438.19,316.32 438.53,315.74 438.90,315.18 439.27,314.64 439.66,314.11 440.06,313.60 440.46,313.09 440.86,312.58 441.26,312.07 441.66,311.56 442.05,311.04 442.43,310.51 442.81,309.98 443.18,309.43 443.54,308.89 443.90,308.33 444.25,307.77 444.60,307.21 444.94,306.64 445.28,306.06 445.61,305.48 445.94,304.90 446.26,304.31 446.58,303.72 446.90,303.13 447.21,302.53 447.52,301.93 447.82,301.33 448.12,300.73 448.43,300.13 448.72,299.52 449.02,298.92 449.31,298.31 449.60,297.71 449.89,297.10 450.18,296.50 450.47,295.89 450.75,295.29 451.04,294.68 451.32,294.07 451.59,293.47 451.87,292.86 452.14,292.25 452.42,291.65 452.68,291.04 452.95,290.43 453.22,289.82 453.48,289.21 453.74,288.60 453.99,287.99 454.24,287.38 454.49,286.76 454.74,286.15 454.99,285.54 455.23,284.92 455.46,284.30 455.70,283.68 455.93,283.07 456.16,282.44 456.38,281.82 456.60,281.20 456.82,280.57 457.03,279.95 457.24,279.32 457.45,278.69 457.65,278.06 457.85,277.43 458.04,276.79 458.23,276.15 458.42,275.52 458.60,274.87 458.78,274.23 458.95,273.59 459.12,272.94 459.28,272.29 459.44,271.64 459.59,270.99 459.74,270.33 459.89,269.67 460.03,269.01 460.16,268.35 460.29,267.68 460.42,267.02 460.54,266.35 460.66,265.67 460.78,265.00 460.91,264.34 461.04,263.67 461.19,263.01 461.34,262.35 461.51,261.70 461.70,261.06 461.91,260.43 462.14,259.81 462.39,259.20 462.67,258.60 462.98,258.02 463.32,257.45 463.70,256.89 464.11,256.37 464.57,255.94 465.06,255.70 465.59,255.73 466.15,255.99 466.69,256.40 467.21,256.90 467.68,257.41 468.10,257.95 468.49,258.51 468.84,259.09 469.15,259.68 469.43,260.28 469.69,260.90 469.93,261.53 470.14,262.16 470.34,262.80 470.53,263.45 470.72,264.10 470.89,264.75 471.07,265.40 471.24,266.05 471.42,266.70 471.59,267.35 471.77,267.99 471.95,268.64 472.12,269.29 472.30,269.93 472.47,270.58 472.65,271.22 472.83,271.87 473.00,272.51 473.18,273.15 473.36,273.79 473.54,274.43 473.72,275.08 473.89,275.72 474.07,276.36 474.25,277.00 474.43,277.64 474.62,278.28 474.80,278.92 474.98,279.56 475.16,280.19 475.35,280.83 475.53,281.47 475.71,282.11 475.90,282.75 476.09,283.39 476.27,284.02 476.46,284.66 476.64,285.30 476.83,285.94 477.02,286.57 477.21,287.21 477.39,287.85 477.58,288.49 477.77,289.12 477.96,289.76 478.15,290.40 478.33,291.04 478.52,291.68 478.71,292.31 478.90,292.95 479.09,293.59 479.27,294.23 479.46,294.87 479.65,295.50 479.84,296.14 480.02,296.78 480.21,297.42 480.40,298.06 480.58,298.70 480.77,299.34 480.95,299.98 481.14,300.62 481.32,301.26 481.50,301.90 481.69,302.54 481.87,303.19 482.05,303.83 482.23,304.47 482.41,305.11 482.59,305.76 482.77,306.40 482.95,307.04 483.12,307.69 483.30,308.33 483.47,308.98 483.65,309.63 483.82,310.27 483.99,310.92 484.16,311.57 484.33,312.22 484.50,312.87 484.67,313.52 484.84,314.17 485.00,314.82 485.17,315.47 485.33,316.12 485.49,316.77 485.65,317.42 485.81,318.07 485.97,318.72 486.12,319.37 486.27,320.02 486.43,320.68 486.58,321.33 486.73,321.97 486.87,322.62 487.02,323.27 487.16,323.92 487.31,324.57 487.45,325.21 487.59,325.86 487.72,326.50 487.86,327.14 487.99,327.79 488.12,328.43 488.25,329.06 488.38,329.70 488.50,330.34 488.63,330.97 488.75,331.60 488.86,332.24 488.98,332.87 489.10,333.50 489.23,334.14 489.36,334.78 489.49,335.42 489.63,336.08 489.79,336.74 489.95,337.41 490.13,338.10 490.32,338.79 490.52,339.51 490.75,340.23 491.00,340.96 491.27,341.67 491.59,342.30 491.95,342.84 492.36,343.24 492.84,343.47 493.38,343.51 493.95,343.37 494.52,343.08 495.08,342.64 495.62,342.11 496.14,341.53 496.67,340.96 497.21,340.46 497.77,340.07 498.35,339.84 498.91,339.81 499.37,340.00 499.74,340.38 500.05,340.90 500.31,341.50 500.56,342.15 500.81,342.79 501.05,343.44 501.30,344.08 501.54,344.71 501.79,345.35 502.03,345.99 502.28,346.62 502.52,347.25 502.77,347.88 503.01,348.51 503.26,349.14 503.50,349.76 503.74,350.39 503.99,351.01 504.23,351.64 504.47,352.26 504.71,352.88 504.95,353.50 505.19,354.12 505.43,354.74 505.67,355.36 505.91,355.98 506.14,356.59 506.38,357.21 506.62,357.83 506.85,358.45 507.08,359.07 507.31,359.68 507.55,360.30 507.78,360.92 508.00,361.54 508.23,362.16 508.46,362.78 508.68,363.40 508.91,364.03 509.13,364.65 509.35,365.27 509.57,365.90 509.79,366.52 510.00,367.15 510.21,367.78 510.42,368.42 510.62,369.05 510.81,369.69 510.99,370.34 511.16,370.99 511.32,371.65 511.46,372.32 511.58,372.99 511.70,373.67 511.81,374.36 511.92,375.04 512.04,375.72 512.17,376.40 512.33,377.08 512.52,377.74 512.74,378.39 513.00,379.02 513.31,379.62 513.65,380.10 514.01,380.37 514.37,380.33 514.74,380.01 515.08,379.49 515.41,378.84 515.71,378.12 515.97,377.42 516.20,376.72 516.39,376.04 516.56,375.37 516.70,374.70 516.83,374.05 516.94,373.39 517.04,372.75 517.13,372.10 517.22,371.46 517.30,370.82 517.40,370.17 517.49,369.52 517.59,368.87 517.69,368.22 517.79,367.56 517.90,366.91 518.01,366.25 518.12,365.59 518.23,364.93 518.35,364.27 518.46,363.61 518.57,362.95 518.69,362.29 518.80,361.62 518.92,360.96 519.03,360.30 519.14,359.63 519.25,358.97 519.36,358.31 519.47,357.64 519.57,356.98 519.67,356.32 519.77,355.66 519.87,355.00 519.96,354.34 520.05,353.69 520.13,353.03 520.21,352.38 520.28,351.73 520.35,351.08 520.41,350.43 520.47,349.79 520.53,349.14 520.58,348.50 520.64,347.85 520.70,347.20 520.77,346.54 520.85,345.88 520.94,345.20 521.04,344.52 521.16,343.83 521.30,343.12 521.46,342.40 521.65,341.67 521.86,340.95 522.09,340.33 522.33,339.90 522.59,339.75 522.85,339.92 523.11,340.35 523.37,340.97 523.61,341.71 523.84,342.51 524.04,343.29 524.22,344.05 524.37,344.78 524.51,345.50 524.62,346.19 524.73,346.87 524.82,347.54 524.90,348.20 524.97,348.85 525.03,349.49 525.10,350.13 525.16,350.77 525.22,351.41 525.28,352.06 525.34,352.70 525.41,353.34 525.47,353.99 525.54,354.64 525.60,355.29 525.67,355.94 525.73,356.59 525.80,357.24 525.87,357.89 525.94,358.55 526.00,359.20 526.07,359.86 526.14,360.51 526.21,361.17 526.28,361.83 526.34,362.49 526.41,363.15 526.48,363.81 526.55,364.47 526.62,365.13 526.68,365.80 526.75,366.46 526.82,367.12 526.88,367.79 526.95,368.45 527.01,369.12 527.08,369.78 527.14,370.45 527.21,371.11 527.27,371.78 527.33,372.45 527.39,373.11 527.45,373.78 527.51,374.45 527.57,375.11 527.62,375.78 527.68,376.45 527.73,377.11 527.79,377.78 527.84,378.45 527.90,379.12 527.95,379.78 528.00,380.45 528.05,381.12 528.10,381.79 528.15,382.45 528.19,383.12 528.24,383.79 528.29,384.45 528.33,385.12 528.38,385.79 528.42,386.46 528.47,387.12 528.51,387.79 528.55,388.46 528.60,389.13 528.64,389.80 528.68,390.46 528.72,391.13 528.76,391.80 528.80,392.46 528.84,393.13 528.88,393.80 528.92,394.47 528.96,395.13 529.00,395.80 529.04,396.47 529.07,397.14 529.11,397.80 529.15,398.47 529.19,399.14 529.22,399.80 529.26,400.47 529.30,401.14 529.33,401.81 529.37,402.47 529.41,403.14 529.44,403.81 529.48,404.47 529.52,405.14 529.55,405.80 529.59,406.47 529.63,407.14 529.66,407.80 529.70,408.47 529.74,409.13 529.77,409.80 529.81,410.47 529.85,411.13 529.89,411.80 529.92,412.46 529.96,413.13 530.00,413.79 530.04,414.46 530.08,415.12 530.12,415.79 530.16,416.45 530.20,417.11 530.24,417.78 530.28,418.44 530.32,419.11 530.36,419.77 530.40,420.43 530.45,421.10 530.49,421.76 530.53,422.42 530.58,423.09 530.62,423.75 530.67,424.41 530.72,425.07 530.76,425.74 530.81,426.40 530.86,427.06 530.91,427.72 530.96,428.38 531.01,429.04 531.06,429.70 531.11,430.36 531.16,431.02 531.22,431.68 531.27,432.34 531.33,433.00 531.38,433.66 531.44,434.32 531.50,434.98 531.56,435.64 531.62,436.30 531.68,436.96 531.74,437.62 531.81,438.27 531.87,438.93 531.94,439.59 532.00,440.25 532.07,440.91 532.14,441.57 532.21,442.23 532.28,442.89 532.36,443.54 532.43,444.20 532.50,444.86 532.58,445.52 532.66,446.18 532.74,446.84 532.82,447.51 532.90,448.17 532.98,448.83 533.07,449.49 533.15,450.15 533.24,450.82 533.33,451.48 533.42,452.15 533.51,452.81 533.60,453.48 533.70,454.14 533.79,454.81 533.89,455.48 533.99,456.15 534.09,456.81 534.19,457.48 534.30,458.16 534.40,458.83 534.51,459.50 534.62,460.17 534.73,460.85 534.85,461.52 534.96,462.20 535.08,462.88 535.19,463.56 535.32,464.24 535.44,464.91 535.58,465.58 535.73,466.23 535.90,466.87 536.09,467.49 536.31,468.08 536.56,468.65 536.83,469.18 537.15,469.67 537.51,470.13 537.91,470.54 538.35,470.90 538.84,471.23 539.35,471.55 539.86,471.92 540.34,472.33 540.77,472.78 541.12,473.28 541.41,473.83 541.64,474.41 541.81,475.03 541.94,475.67 542.02,476.34 542.09,477.02 542.13,477.71 542.15,478.41 542.17,479.11 542.20,479.81 542.22,480.51 542.25,481.20 542.28,481.89 542.32,482.57 542.35,483.25 542.39,483.93 542.43,484.61 542.48,485.28 542.52,485.95 542.57,486.62 542.62,487.28 542.68,487.95 542.73,488.61 542.79,489.27 542.85,489.93 542.91,490.58 542.98,491.24 543.05,491.89 543.11,492.54 543.18,493.19 543.26,493.84 543.33,494.49 543.41,495.14 543.49,495.79 543.57,496.44 543.65,497.09 543.73,497.74 543.82,498.39 543.91,499.04 544.00,499.68 544.09,500.33 544.18,500.98 544.27,501.64 544.37,502.29 544.46,502.94 544.56,503.60 544.66,504.25 544.76,504.91 544.86,505.56 544.96,506.22 545.07,506.88 545.17,507.54 545.27,508.20 545.38,508.86 545.48,509.52 545.58,510.18 545.69,510.84 545.79,511.50 545.89,512.17 546.00,512.83 546.10,513.49 546.20,514.16 546.30,514.82 546.40,515.49 546.49,516.15 546.59,516.82 546.69,517.48 546.78,518.15 546.87,518.81 546.96,519.48 547.05,520.14 547.14,520.81 547.22,521.47 547.30,522.14 547.38,522.80 547.46,523.46 547.53,524.13 547.60,524.79 547.67,525.45 547.74,526.12 547.80,526.78 547.86,527.44 547.91,528.10 547.96,528.76 548.01,529.43 548.06,530.09 548.10,530.74 548.14,531.40 548.19,532.06 548.23,532.72 548.27,533.38 548.32,534.04 548.37,534.70 548.42,535.36 548.47,536.02 548.53,536.68 548.59,537.35 548.66,538.01 548.73,538.67 548.81,539.33 548.90,540.00 549.00,540.67 549.11,541.33 549.22,542.00 M551.70,541.00 551.74,540.34 551.78,539.67 551.83,539.01 551.88,538.35 551.94,537.69 552.01,537.03 552.07,536.37 552.15,535.71 552.23,535.05 552.31,534.39 552.39,533.73 552.48,533.07 552.57,532.41 552.66,531.75 552.75,531.10 552.85,530.44 552.94,529.78 553.04,529.13 553.13,528.47 553.23,527.81 553.33,527.15 553.42,526.50 553.52,525.84 553.61,525.18 553.70,524.53 553.79,523.87 553.88,523.21 553.96,522.56 554.04,521.90 554.12,521.24 554.20,520.58 554.28,519.92 554.35,519.26 554.43,518.61 554.50,517.95 554.57,517.29 554.64,516.63 554.71,515.97 554.78,515.30 554.86,514.64 554.93,513.98 555.00,513.32 555.07,512.66 555.14,511.99 555.22,511.33 555.29,510.67 555.37,510.00 555.45,509.34 555.52,508.67 555.60,508.01 555.68,507.34 555.76,506.68 555.84,506.02 555.92,505.35 555.99,504.69 556.07,504.03 556.14,503.37 556.21,502.71 556.28,502.06 556.34,501.40 556.40,500.75 556.46,500.10 556.51,499.45 556.56,498.81 556.61,498.16 556.65,497.52 556.68,496.88 556.72,496.24 556.75,495.60 556.79,494.96 556.84,494.31 556.88,493.65 556.94,492.98 557.01,492.30 557.09,491.61 557.18,490.91 557.29,490.19 557.41,489.45 557.56,488.70 557.72,487.93 557.90,487.17 558.10,486.47 558.32,485.89 558.55,485.45 558.79,485.21 559.04,485.21 559.29,485.45 559.54,485.88 559.78,486.43 559.99,487.06 560.18,487.70 560.33,488.36 560.47,489.02 560.58,489.70 560.67,490.39 560.75,491.08 560.81,491.78 560.86,492.48 560.90,493.19 560.93,493.90 560.96,494.60 560.99,495.30 561.02,496.00 561.04,496.69 561.07,497.38 561.11,498.06 561.14,498.74 561.18,499.41 561.22,500.08 561.26,500.75 561.31,501.41 561.35,502.07 561.40,502.73 561.44,503.38 561.49,504.03 561.54,504.68 561.59,505.33 561.64,505.98 561.68,506.63 561.73,507.28 561.78,507.93 561.83,508.58 561.88,509.23 561.93,509.88 561.97,510.53 562.02,511.19 562.06,511.84 562.11,512.50 562.15,513.16 562.19,513.82 562.24,514.47 562.28,515.13 562.32,515.80 562.37,516.46 562.41,517.12 562.45,517.78 562.49,518.45 562.53,519.11 562.57,519.77 562.62,520.44 562.66,521.11 562.70,521.77 562.74,522.44 562.79,523.10 562.83,523.77 562.87,524.44 562.92,525.10 562.96,525.77 563.00,526.44 563.05,527.10 563.09,527.77 563.14,528.44 563.19,529.10 563.24,529.77 563.28,530.43 563.33,531.10 563.38,531.76 563.43,532.43 563.49,533.09 563.54,533.75 563.59,534.42 563.65,535.08 563.71,535.74 563.76,536.40 563.82,537.06 563.88,537.72 563.95,538.37 564.01,539.03 564.07,539.68 564.14,540.34 564.21,540.99 M569.20,541.00 569.23,540.31 569.27,539.62 569.32,538.94 569.37,538.27 569.42,537.60 569.48,536.93 569.54,536.28 569.61,535.62 569.67,534.97 569.74,534.32 569.81,533.67 569.89,533.02 569.96,532.38 570.04,531.74 570.11,531.09 570.19,530.45 570.26,529.80 570.33,529.16 570.40,528.51 570.47,527.86 570.54,527.21 570.61,526.55 570.67,525.89 570.73,525.23 570.78,524.56 570.83,523.89 570.88,523.21 570.92,522.52 570.95,521.83 570.98,521.13 571.01,520.42 571.02,519.71 571.05,518.99 571.08,518.27 571.12,517.56 571.19,516.86 571.28,516.16 571.41,515.48 571.57,514.82 571.77,514.18 572.03,513.57 572.34,512.98 572.68,512.49 573.03,512.17 573.35,512.12 573.63,512.36 573.87,512.83 574.08,513.44 574.29,514.12 574.49,514.81 574.68,515.49 574.88,516.17 575.07,516.84 575.25,517.51 575.44,518.18 575.62,518.84 575.80,519.50 575.98,520.16 576.15,520.82 576.32,521.47 576.49,522.12 576.66,522.77 576.82,523.42 576.99,524.07 577.14,524.71 577.30,525.36 577.45,526.00 577.60,526.64 577.75,527.29 577.90,527.93 578.04,528.57 578.18,529.21 578.32,529.85 578.46,530.49 578.59,531.14 578.72,531.78 578.85,532.43 578.98,533.07 579.10,533.72 579.22,534.37 579.34,535.02 579.46,535.68 579.57,536.33 579.69,536.99 579.80,537.65 579.91,538.32 580.01,538.98 580.11,539.65 580.22,540.33 580.31,541.01 M581.00,537.01 580.94,536.36 581.01,535.67 581.20,534.97 581.47,534.31 581.82,533.71 582.23,533.20 582.68,532.84 583.16,532.63 583.64,532.63 584.12,532.84 584.57,533.20 584.98,533.71 585.33,534.31 585.60,534.97 585.79,535.67 585.86,536.36 585.80,537.01 M593.20,541.00 593.37,540.38 593.54,539.76 593.70,539.13 593.85,538.50 593.99,537.86 594.13,537.22 594.26,536.57 594.38,535.92 594.50,535.27 594.61,534.61 594.71,533.95 594.81,533.29 594.90,532.62 594.99,531.95 595.07,531.28 595.15,530.61 595.23,529.94 595.30,529.26 595.36,528.58 595.42,527.91 595.48,527.23 595.54,526.55 595.59,525.87 595.64,525.19 595.68,524.51 595.73,523.83 595.77,523.15 595.81,522.48 595.85,521.80 595.89,521.13 595.93,520.45 595.96,519.78 596.00,519.11 596.04,518.45 596.07,517.78 596.11,517.12 596.14,516.47 596.18,515.81 596.22,515.16 596.26,514.52 596.30,513.87 596.34,513.24 596.39,512.60 596.43,511.97 596.48,511.35 596.53,510.73 596.58,510.11 596.64,509.49 596.69,508.87 596.74,508.25 596.79,507.63 596.85,507.01 596.90,506.38 596.95,505.74 596.99,505.10 597.04,504.45 597.08,503.79 597.12,503.12 597.16,502.44 597.19,501.75 597.22,501.05 597.25,500.33 597.27,499.59 597.28,498.84 597.29,498.07 597.29,497.29 597.29,496.49 597.30,495.68 597.31,494.89 597.33,494.10 597.37,493.34 597.44,492.62 597.53,491.93 597.66,491.29 597.82,490.72 598.03,490.21 598.29,489.78 598.59,489.45 598.92,489.30 599.24,489.39 599.55,489.73 599.84,490.24 600.11,490.89 600.36,491.61 600.58,492.35 600.78,493.07 600.96,493.78 601.13,494.46 601.28,495.13 601.43,495.78 601.57,496.41 601.71,497.03 601.85,497.63 602.00,498.22 602.16,498.80 602.33,499.39 602.51,499.98 602.71,500.59 602.92,501.22 603.16,501.89 603.42,502.60 603.70,503.37 604.01,504.17 604.34,504.97 604.68,505.70 605.02,506.30 605.35,506.69 605.67,506.81 605.97,506.62 606.24,506.15 606.49,505.49 606.72,504.73 606.92,503.94 607.10,503.18 607.27,502.45 607.42,501.75 607.55,501.07 607.66,500.40 607.76,499.76 607.86,499.12 607.94,498.50 608.01,497.88 608.07,497.27 608.13,496.66 608.19,496.05 608.24,495.44 608.30,494.81 608.35,494.18 608.41,493.54 608.46,492.90 608.52,492.25 608.57,491.59 608.63,490.92 608.69,490.25 608.76,489.58 608.82,488.90 608.89,488.22 608.95,487.54 609.03,486.85 609.10,486.17 609.18,485.48 609.26,484.79 609.35,484.11 609.44,483.42 609.53,482.74 609.63,482.06 609.73,481.38 609.84,480.70 609.95,480.03 610.07,479.37 610.19,478.70 610.32,478.05 610.45,477.40 610.59,476.76 610.74,476.12 610.90,475.50 611.06,474.88 611.23,474.30 611.42,473.88 611.66,473.75 611.93,473.97 612.22,474.46 612.50,475.11 612.76,475.82 612.97,476.53 613.15,477.23 613.29,477.92 613.41,478.59 613.52,479.26 613.62,479.92 613.73,480.58 613.85,481.23 613.98,481.87 614.14,482.51 614.34,483.15 614.56,483.79 614.79,484.42 615.05,485.05 615.32,485.67 615.60,486.29 615.88,486.91 616.16,487.52 616.43,488.12 616.70,488.72 616.95,489.31 617.19,489.89 617.40,490.47 617.59,491.04 617.76,491.60 617.90,492.17 618.02,492.75 618.13,493.35 618.23,493.96 618.31,494.60 618.39,495.26 618.46,495.96 618.52,496.71 618.59,497.49 618.65,498.33 618.72,499.23 618.79,500.17 618.86,501.14 618.95,502.11 619.03,503.06 619.13,503.98 619.23,504.83 619.34,505.61 619.45,506.28 619.58,506.82 619.71,507.23 619.85,507.46 620.00,507.51 620.16,507.34 620.33,506.97 620.51,506.43 620.70,505.75 620.91,504.98 621.12,504.15 621.34,503.30 621.58,502.48 621.82,501.75 622.08,501.19 622.34,500.87 622.60,500.87 622.87,501.18 623.13,501.72 623.38,502.41 623.61,503.16 623.82,503.91 624.01,504.64 624.18,505.35 624.33,506.05 624.47,506.73 624.59,507.41 624.69,508.07 624.79,508.72 624.87,509.37 624.95,510.02 625.02,510.65 625.08,511.29 625.15,511.93 625.21,512.57 625.27,513.21 625.33,513.85 625.39,514.49 625.45,515.14 625.52,515.79 625.58,516.44 625.64,517.09 625.70,517.75 625.76,518.40 625.82,519.06 625.88,519.72 625.94,520.38 626.00,521.04 626.06,521.70 626.12,522.37 626.17,523.03 626.23,523.70 626.29,524.36 626.34,525.03 626.40,525.70 626.45,526.37 626.51,527.04 626.56,527.71 626.61,528.38 626.66,529.05 626.71,529.72 626.76,530.39 626.81,531.06 626.86,531.73 626.90,532.40 626.95,533.07 626.99,533.74 627.03,534.41 627.07,535.08 627.11,535.75 627.15,536.42 627.18,537.08 627.22,537.75 627.25,538.42 627.28,539.08 627.31,539.74 627.34,540.40 627.37,541.06 627.39,541.72 627.42,542.38 627.44,543.04 627.46,543.69 627.47,544.34 627.49,544.99" stroke="#000" stroke-width="1.7"/>
</g>
<text x="95.8" y="538.00" font-size="12" text-anchor="end">60</text><text x="95.8" y="504.79" font-size="12" text-anchor="end">65</text><text x="95.8" y="471.58" font-size="12" text-anchor="end">70</text><text x="95.8" y="438.37" font-size="12" text-anchor="end">75</text><text x="95.8" y="405.16" font-size="12" text-anchor="end">80</text><text x="95.8" y="371.95" font-size="12" text-anchor="end">85</text><text x="95.8" y="338.74" font-size="12" text-anchor="end">90</text><text x="95.8" y="305.53" font-size="12" text-anchor="end">95</text><text x="95.8" y="272.32" font-size="12" text-anchor="end">100</text><text x="95.8" y="239.11" font-size="12" text-anchor="end">105</text><text x="95.8" y="205.90" font-size="12" text-anchor="end">110</text><text x="671.5" y="538.00" font-size="12">0</text><text x="671.5" y="454.97" font-size="12">50</text><text x="671.5" y="371.95" font-size="12">100</text><text x="671.5" y="288.93" font-size="12">150</text><text x="671.5" y="205.90" font-size="12">200</text><text x="103.80" y="550.1" font-size="12" text-anchor="middle">10</text><text x="154.85" y="550.1" font-size="12" text-anchor="middle">20</text><text x="273.37" y="550.1" font-size="12" text-anchor="middle">100</text><text x="391.89" y="550.1" font-size="12" text-anchor="middle">500</text><text x="442.94" y="550.1" font-size="12" text-anchor="middle">1000</text><text x="612.51" y="550.1" font-size="12" text-anchor="middle">10000</text>
<text x="383.9" y="572.3" font-size="16" text-anchor="middle" style="stroke-width:0.15px">Frequency (Hz)</text>
<text transform="translate(44.5,367.25) rotate(-90)" font-size="16" text-anchor="middle" style="stroke-width:0.35px">SPL (dB) @ 2.83V, 1m, half space</text>
<text transform="translate(704.2,367.45) rotate(90)" font-size="16" text-anchor="middle" style="stroke-width:0.2px">Impedance (Ohm)</text>
</svg></body></html>
